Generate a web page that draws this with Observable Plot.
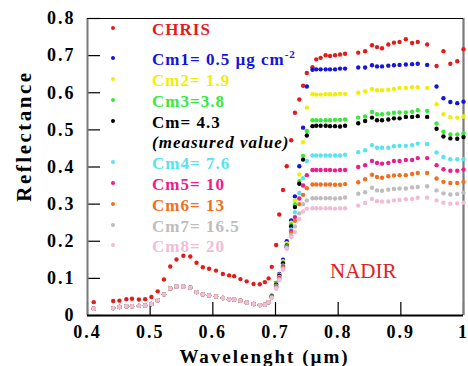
<!DOCTYPE html>
<html><head><meta charset="utf-8">
<script src="https://cdn.jsdelivr.net/npm/d3@7"></script>
<script src="https://cdn.jsdelivr.net/npm/@observablehq/plot@0.6"></script>
<style>
body{margin:0;background:#fff;}
#wrap{position:relative;width:468px;height:366px;font-family:"Liberation Serif","Times New Roman",serif;overflow:hidden;}
#wrap svg text{letter-spacing:2px;}
#legend{position:absolute;left:0;top:19.5px;font-weight:bold;font-size:17px;letter-spacing:1px;}
.row{position:relative;height:20.8px;line-height:20.8px;padding-left:152px;white-space:nowrap;}
.row.first{margin-bottom:10px;}
.dot{position:absolute;left:111px;top:6px;width:4px;height:4px;border-radius:50%;}
sup{font-size:11px;line-height:0;vertical-align:7px;}
.note{font-style:italic;color:#000;}
#ytitle{position:absolute;left:24px;top:136px;transform:translate(-50%,-50%) rotate(-90deg);font-weight:bold;font-size:21px;letter-spacing:2.5px;white-space:nowrap;color:#000;line-height:1;}
</style></head>
<body><div id="wrap"></div>
<script>
// ---- data ----
const wavelengths = [0.410, 0.441, 0.451, 0.462, 0.471, 0.482, 0.492, 0.502, 0.512, 0.522,
  0.532, 0.542, 0.553, 0.564, 0.574, 0.584, 0.594, 0.605, 0.616, 0.626,
  0.634, 0.644, 0.654, 0.665, 0.675, 0.683, 0.689, 0.694, 0.701, 0.706,
  0.712, 0.718, 0.725, 0.731, 0.738, 0.744, 0.750, 0.759, 0.765, 0.772,
  0.780, 0.787, 0.795, 0.803, 0.811, 0.832, 0.843, 0.854, 0.862, 0.870,
  0.880, 0.889, 0.898, 0.908, 0.918, 0.927, 0.942, 0.957, 0.968, 0.979,
  0.990, 1.000];

const chris = [0.036, 0.039, 0.040, 0.044, 0.045, 0.043, 0.044, 0.050, 0.065, 0.097,
  0.132, 0.151, 0.161, 0.159, 0.142, 0.130, 0.126, 0.121, 0.112, 0.108,
  0.106, 0.098, 0.092, 0.085, 0.084, 0.090, 0.100, 0.131, 0.190, 0.272,
  0.338, 0.402, 0.472, 0.546, 0.582, 0.619, 0.653, 0.669, 0.690, 0.694,
  0.701, 0.699, 0.701, 0.703, 0.705, 0.708, 0.712, 0.728, 0.723, 0.720,
  0.730, 0.735, 0.737, 0.744, 0.734, 0.737, 0.730, 0.672, 0.712, 0.678,
  0.685, 0.717];

// simulated spectra overlap in the visible (first 27 bands)
const modelVisible = [0.018, 0.020, 0.023, 0.025, 0.025, 0.026, 0.027, 0.031, 0.041, 0.057,
  0.073, 0.078, 0.078, 0.075, 0.063, 0.057, 0.054, 0.051, 0.047, 0.044,
  0.043, 0.040, 0.035, 0.031, 0.028, 0.029, 0.036];

// remaining 35 bands (0.694 µm onward) for each simulated spectrum
const cm1Nir = [0.053, 0.088, 0.112, 0.150, 0.200, 0.256, 0.321, 0.402, 0.506, 0.617,
  0.662, 0.663, 0.663, 0.663, 0.663, 0.663, 0.665, 0.665,
  0.668, 0.668, 0.674, 0.671, 0.671, 0.673, 0.674, 0.675, 0.676, 0.677, 0.678, 0.675,
  0.617, 0.585, 0.575, 0.572, 0.576];
const cm2Nir = [0.052, 0.086, 0.110, 0.146, 0.195, 0.250, 0.310, 0.380, 0.467, 0.560,
  0.596, 0.595, 0.595, 0.596, 0.596, 0.596, 0.597, 0.597,
  0.600, 0.604, 0.610, 0.607, 0.607, 0.608, 0.610, 0.613, 0.613, 0.615, 0.615, 0.613,
  0.569, 0.542, 0.534, 0.533, 0.536];
const cm3Nir = [0.051, 0.084, 0.108, 0.142, 0.190, 0.245, 0.300, 0.362, 0.430, 0.497,
  0.526, 0.526, 0.526, 0.526, 0.526, 0.527, 0.527, 0.528,
  0.533, 0.536, 0.548, 0.542, 0.542, 0.544, 0.546, 0.547, 0.547, 0.549, 0.553, 0.551,
  0.517, 0.495, 0.488, 0.488, 0.491];
const cmMeasuredNir = [0.051, 0.083, 0.107, 0.140, 0.188, 0.240, 0.292, 0.355, 0.420, 0.485,
  0.510, 0.511, 0.511, 0.511, 0.510, 0.510, 0.509, 0.511,
  0.518, 0.524, 0.533, 0.526, 0.526, 0.528, 0.531, 0.531, 0.535, 0.535, 0.537, 0.535,
  0.503, 0.482, 0.477, 0.476, 0.481];
const cm4Nir = [0.050, 0.080, 0.104, 0.135, 0.186, 0.232, 0.278, 0.330, 0.370, 0.416,
  0.431, 0.431, 0.431, 0.431, 0.431, 0.431, 0.431, 0.433,
  0.440, 0.445, 0.459, 0.452, 0.452, 0.452, 0.456, 0.457, 0.457, 0.459, 0.463, 0.462,
  0.439, 0.427, 0.421, 0.421, 0.421];
const cm5Nir = [0.049, 0.078, 0.101, 0.132, 0.184, 0.227, 0.265, 0.315, 0.350, 0.378,
  0.392, 0.392, 0.392, 0.392, 0.392, 0.391, 0.392, 0.392,
  0.400, 0.405, 0.416, 0.411, 0.409, 0.411, 0.416, 0.416, 0.419, 0.419, 0.424, 0.424,
  0.405, 0.394, 0.390, 0.390, 0.393];
const cm6Nir = [0.049, 0.076, 0.099, 0.129, 0.183, 0.222, 0.255, 0.300, 0.325, 0.343,
  0.353, 0.353, 0.353, 0.353, 0.353, 0.352, 0.352, 0.354,
  0.359, 0.367, 0.379, 0.373, 0.371, 0.375, 0.377, 0.378, 0.378, 0.381, 0.384, 0.384,
  0.369, 0.360, 0.357, 0.357, 0.360];
const cm7Nir = [0.048, 0.074, 0.097, 0.126, 0.181, 0.216, 0.240, 0.275, 0.300, 0.310,
  0.316, 0.316, 0.316, 0.316, 0.316, 0.315, 0.316, 0.318,
  0.328, 0.332, 0.344, 0.337, 0.336, 0.339, 0.341, 0.342, 0.342, 0.345, 0.346, 0.348,
  0.337, 0.329, 0.326, 0.327, 0.331];
const cm8Nir = [0.047, 0.072, 0.095, 0.123, 0.180, 0.211, 0.225, 0.260, 0.280, 0.288,
  0.289, 0.289, 0.289, 0.289, 0.289, 0.288, 0.289, 0.289,
  0.296, 0.303, 0.314, 0.308, 0.307, 0.307, 0.310, 0.311, 0.313, 0.314, 0.317, 0.317,
  0.310, 0.304, 0.301, 0.302, 0.304];

const seriesNames = ["CHRIS", "Cm1", "Cm2", "Cm3", "Cm", "Cm4", "Cm5", "Cm6", "Cm7", "Cm8"];
const seriesColors = ["#e41b1b", "#1414dc", "#f2ee00", "#3ae83a", "#000000", "#55e4f0", "#ee1c8c", "#f07020", "#bdbdbd", "#f2bcd6"];
const legendLabels = ["CHRIS", "Cm1= 0.5 µg cm<sup>-2</sup>", "Cm2= 1.9", "Cm3=3.8", "Cm= 4.3", "Cm4= 7.6", "Cm5= 10", "Cm6= 13", "Cm7= 16.5", "Cm8= 20"];
const measuredNote = "(measured value)";

const xTicks = [0.4, 0.5, 0.6, 0.7, 0.8, 0.9, 1.0];
const xTickLabels = ["0.4", "0.5", "0.6", "0.7", "0.8", "0.9", "1"];
const yTicks = [0, 0.1, 0.2, 0.3, 0.4, 0.5, 0.6, 0.7, 0.8];
const yTickLabels = ["0", "0.1", "0.2", "0.3", "0.4", "0.5", "0.6", "0.7", "0.8"];
const xTitle = "Wavelenght (µm)";
const yTitle = "Reflectance";
const annotation = "NADIR";

// ---- build tables ----
const modelNir = [cm1Nir, cm2Nir, cm3Nir, cmMeasuredNir, cm4Nir, cm5Nir, cm6Nir, cm7Nir, cm8Nir];
const nVis = modelVisible.length;
const tables = [wavelengths.map((w, i) => ({w, r: chris[i]}))].concat(
  modelNir.map(nir => wavelengths.map((w, i) => ({w, r: i < nVis ? modelVisible[i] : nir[i - nVis]})))
);

const xDomain = [xTicks[0], xTicks[xTicks.length - 1]];
const yDomain = [yTicks[0], yTicks[yTicks.length - 1]];
const serif = "'Liberation Serif','Times New Roman',serif";

const chart = Plot.plot({
  width: 468, height: 366,
  marginLeft: 87, marginRight: 5, marginTop: 18, marginBottom: 51,
  x: {domain: xDomain, label: null},
  y: {domain: yDomain, label: null},
  style: {fontFamily: serif, fontSize: "18px", fontWeight: "bold", background: "white", color: "#000", overflow: "visible"},
  marks: [
    // inward ticks
    Plot.axisX(xTicks, {tickSize: -13, tickFormat: () => "", label: null, stroke: "#000", strokeWidth: 1.2}),
    Plot.axisY(yTicks, {tickSize: -13, tickFormat: () => "", label: null, stroke: "#000", strokeWidth: 1.2}),
    // tick labels
    Plot.axisX(xTicks, {tickSize: 0, tickPadding: 10, tickFormat: d => xTickLabels[xTicks.indexOf(d)], label: null, fontSize: 18, fontWeight: "bold", fill: "#000"}),
    Plot.axisY(yTicks, {tickSize: 0, tickPadding: 12, tickFormat: d => yTickLabels[yTicks.indexOf(d)], label: null, fontSize: 18, fontWeight: "bold", fill: "#000"}),
    // frame
    Plot.ruleX([xDomain[0]], {stroke: "#7a7a7a", strokeWidth: 2}),
    Plot.ruleX([xDomain[1]], {stroke: "#7a7a7a", strokeWidth: 2.2}),
    Plot.ruleY([yDomain[1]], {stroke: "#000", strokeWidth: 1}),
    Plot.ruleY([yDomain[0]], {stroke: "#000", strokeWidth: 2}),
    // data
    ...tables.map((t, k) => Plot.dot(t, {x: "w", y: "r", fill: seriesColors[k], r: 2.2})),
    // annotation
    Plot.text([annotation], {x: 0.787, y: 0.12, textAnchor: "start", lineAnchor: "middle", fill: "#e02020", fontSize: 21, fontWeight: "normal"}),
    // x axis title
    Plot.text([xTitle], {frameAnchor: "bottom", dx: -11, dy: 41, lineAnchor: "middle", fontSize: 19, fontWeight: "bold", fill: "#000"})
  ]
});

const wrap = document.getElementById("wrap");
wrap.appendChild(chart);
d3.select(chart).selectAll("text").filter(function() { return this.textContent === annotation; }).style("letter-spacing", "0px");

// y axis title
const yt = document.createElement("div");
yt.id = "ytitle";
yt.textContent = yTitle;
wrap.appendChild(yt);

// ---- legend (inside the plot area) ----
const legend = document.createElement("div");
legend.id = "legend";
legendLabels.forEach((lab, k) => {
  const row = document.createElement("div");
  row.className = "row" + (k === 0 ? " first" : "");
  row.style.color = seriesColors[k];
  row.innerHTML = `<span class="dot" style="background:${seriesColors[k]}"></span><span>${lab}</span>`;
  legend.appendChild(row);
  if (seriesNames[k] === "Cm") {
    const note = document.createElement("div");
    note.className = "row note";
    note.textContent = measuredNote;
    legend.appendChild(note);
  }
});
wrap.appendChild(legend);
</script>
</body></html>
